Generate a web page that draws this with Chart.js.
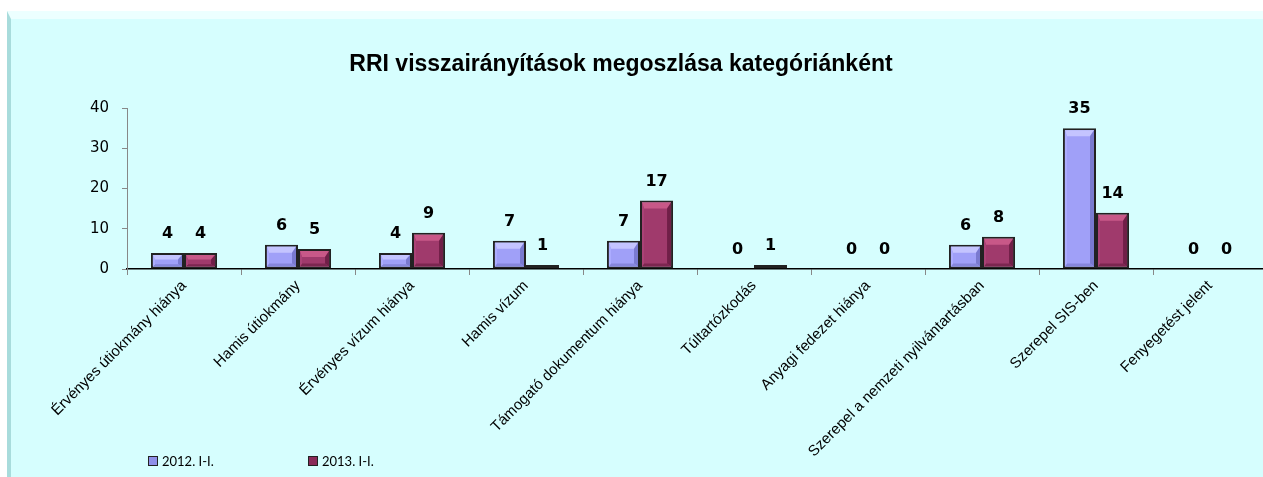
<!DOCTYPE html>
<html>
<head>
<meta charset="utf-8">
<script src="https://cdn.jsdelivr.net/npm/chart.js@4/dist/chart.umd.min.js"></script>
<style>
  html, body { margin: 0; padding: 0; background: #fff; overflow: hidden; width: 1263px; height: 477px; }
  #box {
    position: absolute; left: 7px; top: 11px; width: 1300px; height: 480px;
    background: #d6fefe;
    border-left: 4px solid #a8dcdc;
    border-top: 8px solid #ecffff;
    box-sizing: border-box;
  }
  #chart { position: absolute; left: 0; top: 0; }
  #title {
    position: absolute; left: 0; width: 1242px; top: 50px; text-align: center;
    font: bold 23px "Liberation Sans", Arial, sans-serif; color: #000;
  }
  .leg { position: absolute; top: 453px; font: 13px Lato, sans-serif; color: #000; }
  .leg i { display: inline-block; width: 8px; height: 8px; border: 1px solid #222; vertical-align: 0px; margin-right: 4px; }
</style>
</head>
<body>
<div id="box"></div>
<canvas id="chart" width="1290" height="477"></canvas>
<div id="title">RRI visszairányítások megoszlása kategóriánként</div>
<div class="leg" style="left:148px"><i style="background:#8f8fe8"></i>2012. I-I.</div>
<div class="leg" style="left:308px"><i style="background:#8a2a58"></i>2013. I-I.</div>
<script>
var categories = [
    'Érvényes útiokmány hiánya',
    'Hamis útiokmány',
    'Érvényes vízum hiánya',
    'Hamis vízum',
    'Támogató dokumentum hiánya',
    'Túltartózkodás',
    'Anyagi fedezet hiánya',
    'Szerepel a nemzeti nyilvántartásban',
    'Szerepel SIS-ben',
    'Fenyegetést jelent'
];
var series2012 = [4, 6, 4, 7, 7, 0, 0, 6, 35, 0];
var series2013 = [4, 5, 9, 1, 17, 1, 0, 8, 14, 0];
var seriesNames = ['2012. I-I.', '2013. I-I.'];
var yTicks = [0, 10, 20, 30, 40];

// bevel colours per dataset: light top, dark right/bottom
var bevels = [
    { top: '#c4c4ff', left: '#adadff', right: '#7a7ad0', bottom: '#8686dc' },
    { top: '#c85888', left: '#aa4276', right: '#701f48', bottom: '#7c2650' }
];

var bevelPlugin = {
    id: 'bevel',
    afterDatasetsDraw: function(chart) {
        var ctx = chart.ctx;
        chart.data.datasets.forEach(function(ds, di) {
            var meta = chart.getDatasetMeta(di);
            var c = bevels[di];
            meta.data.forEach(function(bar) {
                var p = bar.getProps(['x', 'y', 'base', 'width'], true);
                var l = p.x - p.width / 2 + 2, r = p.x + p.width / 2 - 2;
                var t = p.y + 2, b = p.base - 2;
                if (b - t < 4) return;
                var s = Math.min(6, (b - t) / 2.5);
                var sr = Math.min(4, s), sb = Math.min(3, s / 2), sl = Math.min(2, s / 2);
                ctx.save();
                ctx.fillStyle = c.top;
                ctx.beginPath();
                ctx.moveTo(l, t); ctx.lineTo(r, t); ctx.lineTo(r - sr, t + s); ctx.lineTo(l + sl, t + s);
                ctx.closePath(); ctx.fill();
                ctx.fillStyle = c.right;
                ctx.beginPath();
                ctx.moveTo(r, t); ctx.lineTo(r, b); ctx.lineTo(r - sr, b - sb); ctx.lineTo(r - sr, t + s);
                ctx.closePath(); ctx.fill();
                ctx.fillStyle = c.bottom;
                ctx.beginPath();
                ctx.moveTo(l, b); ctx.lineTo(r, b); ctx.lineTo(r - sr, b - sb); ctx.lineTo(l + sl, b - sb);
                ctx.closePath(); ctx.fill();
                ctx.fillStyle = c.left;
                ctx.beginPath();
                ctx.moveTo(l, t); ctx.lineTo(l + sl, t + s); ctx.lineTo(l + sl, b - sb); ctx.lineTo(l, b);
                ctx.closePath(); ctx.fill();
                ctx.restore();
            });
        });
    }
};

var valueLabels = {
    id: 'valueLabels',
    afterDatasetsDraw: function(chart) {
        var ctx = chart.ctx;
        ctx.save();
        ctx.font = 'bold 16px "DejaVu Sans", sans-serif';
        ctx.fillStyle = '#000';
        ctx.textAlign = 'center';
        ctx.textBaseline = 'middle';
        chart.data.datasets.forEach(function(ds, di) {
            chart.getDatasetMeta(di).data.forEach(function(bar, i) {
                ctx.fillText(ds.data[i], bar.x, bar.y - 19);
            });
        });
        ctx.restore();
    }
};

var chart = new Chart(document.getElementById('chart'), {
    type: 'bar',
    data: {
        labels: categories,
        datasets: [
            { label: seriesNames[0], data: series2012, backgroundColor: '#a0a0f8', borderColor: '#222', borderWidth: 2, borderSkipped: false },
            { label: seriesNames[1], data: series2013, backgroundColor: '#a03a6c', borderColor: '#222', borderWidth: 2, borderSkipped: false }
        ]
    },
    options: {
        responsive: false,
        animation: false,
        categoryPercentage: 0.58,
        barPercentage: 1.0,
        layout: { padding: { left: 0, top: 108, right: 23, bottom: 8 } },
        plugins: {
            legend: { display: false },
            title: { display: false },
            tooltip: { enabled: false }
        },
        scales: {
            x: {
                grid: { display: true, drawOnChartArea: false, color: '#888', tickLength: 6, offset: true },
                border: { color: '#000', width: 1.5 },
                ticks: {
                    color: '#000', minRotation: 45, maxRotation: 45, padding: 2, autoSkip: false,
                    font: { family: '"Liberation Sans", Arial, sans-serif', size: 15 }
                },
                afterFit: function(scale) { scale.height = 200; }
            },
            y: {
                min: 0, max: 40,
                afterBuildTicks: function(scale) { scale.ticks = yTicks.map(function(v) { return { value: v }; }); },
                grid: { display: true, drawOnChartArea: false, color: '#888', tickLength: 5 },
                border: { color: '#888', width: 1 },
                ticks: {
                    color: '#000', padding: 13,
                    font: { family: '"DejaVu Sans", sans-serif', size: 15 }
                },
                afterFit: function(scale) { scale.width = 127; }
            }
        }
    },
    plugins: [bevelPlugin, valueLabels]
});
</script>
</body>
</html>
